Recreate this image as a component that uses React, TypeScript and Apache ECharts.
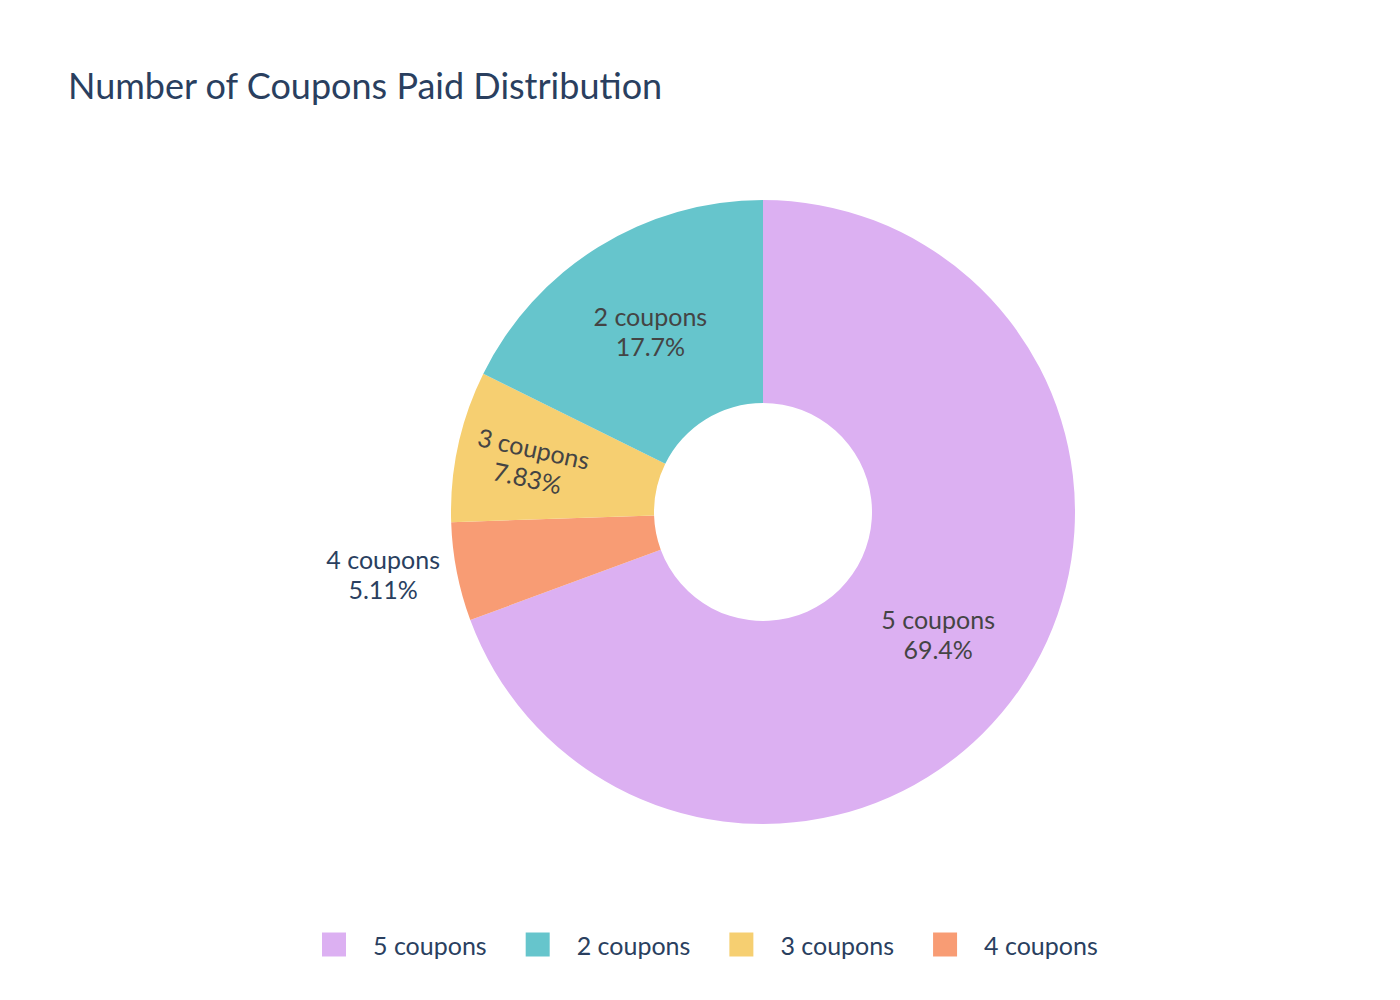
import { useEffect, useRef } from 'react'
import * as echarts from 'echarts'

const categories = ['5 coupons', '4 coupons', '3 coupons', '2 coupons']
const shares = [69.4, 5.11, 7.83, 17.7]
const legendOrder = ['5 coupons', '2 coupons', '3 coupons', '4 coupons']
const colors = ['#DCB0F2', '#F89C74', '#F6CF71', '#66C5CC']

const FONT = 'Lato, "Source Sans Pro", sans-serif'
const INK = '#2a3f5f'

export default function App() {
  const chartRef = useRef<HTMLDivElement>(null)

  useEffect(() => {
    if (!chartRef.current) return
    const chart = echarts.init(chartRef.current, undefined, { renderer: 'svg' })

    const total = shares.reduce((a, b) => a + b, 0)
    const pct = (v: number) => `${Number(((v / total) * 100).toPrecision(3))}%`

    const data = categories.map((name, i) => {
      const item: any = { name, value: shares[i], itemStyle: { color: colors[i] } }
      if (name === '4 coupons') {
        item.label = { position: 'outside', color: INK }
        item.labelLine = { show: false, length: 12, length2: 0 }
      }
      if (name === '3 coupons') {
        item.label = { rotate: 'radial', offset: [-24, 1], lineHeight: 32 }
      }
      return item
    })

    chart.setOption({
      animation: false,
      textStyle: { fontFamily: FONT },
      title: {
        text: 'Number of Coupons Paid Distribution',
        left: 63,
        top: 62,
        textStyle: { fontFamily: FONT, fontSize: 36, fontWeight: 'normal', color: INK }
      },
      legend: {
        data: legendOrder,
        bottom: 38,
        left: 317,
        icon: 'rect',
        itemWidth: 24,
        itemHeight: 24,
        itemGap: 39,
        textStyle: { fontFamily: FONT, fontSize: 25, color: INK, padding: [0, 0, 0, 22] }
      },
      series: [
        {
          type: 'pie',
          center: [763, 512],
          radius: [109, 312],
          startAngle: 90,
          clockwise: true,
          avoidLabelOverlap: false,
          label: {
            show: true,
            position: 'inside',
            fontFamily: FONT,
            fontSize: 25,
            lineHeight: 30,
            color: '#444444',
            formatter: (p: any) => `{c|${p.name}}\n{c|${pct(p.value)}}`,
            rich: { c: { align: 'center', fontFamily: FONT, fontSize: 25, lineHeight: 30 } }
          },
          labelLine: { show: false },
          emphasis: { disabled: true },
          data
        }
      ]
    })

    return () => chart.dispose()
  }, [])

  return (
    <div
      ref={chartRef}
      style={{ position: 'fixed', left: 0, top: 0, width: 1400, height: 1000, background: '#fff' }}
    />
  )
}
